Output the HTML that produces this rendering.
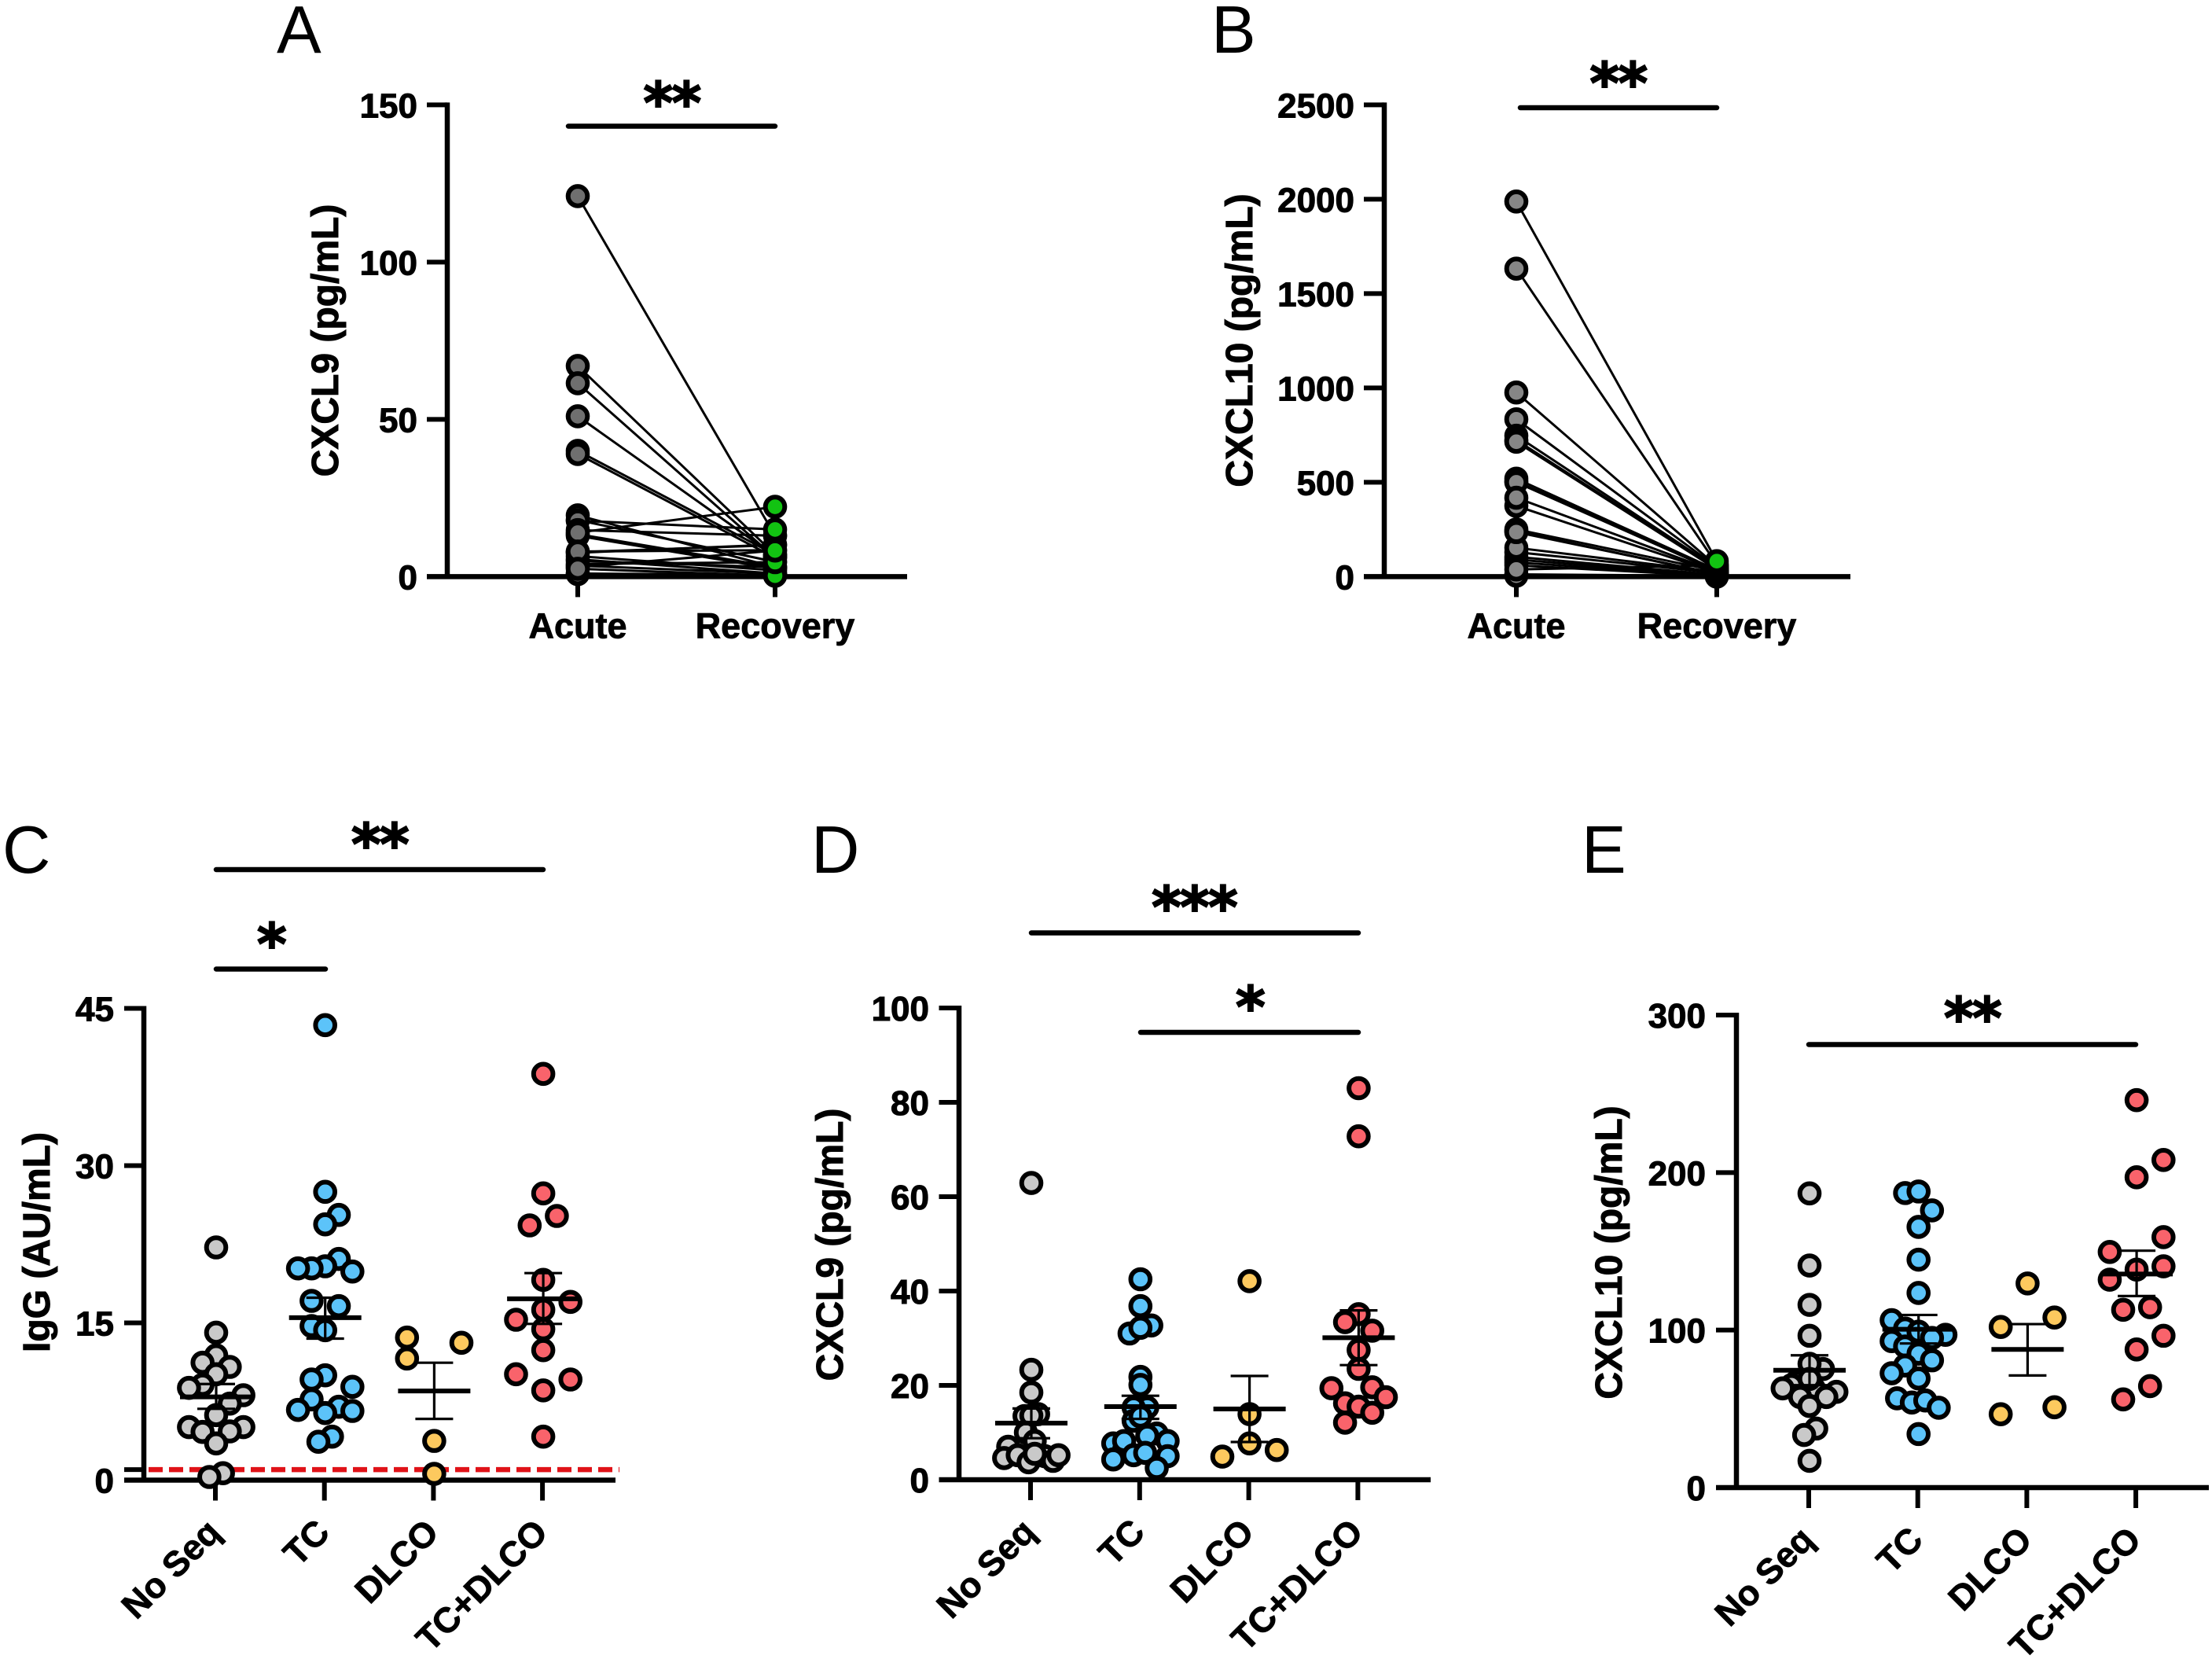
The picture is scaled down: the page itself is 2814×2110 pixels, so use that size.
<!DOCTYPE html>
<html lang="en">
<head>
<meta charset="utf-8">
<title>CXCL9, CXCL10 and IgG panels</title>
<style>
html,body{margin:0;padding:0;background:#fff;}
svg{display:block;}
text{font-family:"Liberation Sans",Arial,sans-serif;fill:#000;}
.letter{font-size:85px;}
.ytitle{font-size:48px;font-weight:700;text-anchor:middle;stroke:#000;stroke-width:1px;}
.star{font-family:"DejaVu Sans",sans-serif;font-weight:700;font-size:72px;text-anchor:middle;letter-spacing:-1.7px;stroke:#000;stroke-width:2px;}
.bar{stroke:#000;stroke-width:6.5;stroke-linecap:round;}
.tick-label{font-size:44px;font-weight:700;text-anchor:end;stroke:#000;stroke-width:1px;}
.cat-label{font-size:45px;font-weight:700;stroke:#000;stroke-width:.8px;}
</style>
</head>
<body>
<svg id="figure" xmlns="http://www.w3.org/2000/svg" width="2814" height="2110" viewBox="0 0 2814 2110">
  <rect width="2814" height="2110" fill="#fff"/>
  <text class="letter" x="352" y="67">A</text>
  <text class="letter" x="1541" y="67">B</text>
  <text class="letter" x="3" y="1110">C</text>
  <text class="letter" x="1032" y="1110">D</text>
  <text class="letter" x="2012" y="1110">E</text>

  <text class="ytitle" transform="translate(430,433) rotate(-90)">CXCL9 (pg/mL)</text>
  <text class="ytitle" transform="translate(1593,433) rotate(-90)">CXCL10 (pg/mL)</text>
  <text class="ytitle" transform="translate(63,1580) rotate(-90)">IgG (AU/mL)</text>
  <text class="ytitle" transform="translate(1072,1583) rotate(-90)">CXCL9 (pg/mL)</text>
  <text class="ytitle" transform="translate(2063,1593) rotate(-90)">CXCL10 (pg/mL)</text>

  <line class="bar" x1="723" y1="160.5" x2="986" y2="160.5"/>
  <text class="star" x="854.5" y="156">**</text>
  <line class="bar" x1="1934" y1="137" x2="2184" y2="137"/>
  <text class="star" x="2058.5" y="131">**</text>
  <line class="bar" x1="275" y1="1106" x2="691" y2="1106"/>
  <text class="star" x="483" y="1099">**</text>
  <line class="bar" x1="275" y1="1232.5" x2="414" y2="1232.5"/>
  <text class="star" x="345" y="1226">*</text>
  <line class="bar" x1="1312" y1="1186.5" x2="1728" y2="1186.5"/>
  <text class="star" x="1519" y="1179">***</text>
  <line class="bar" x1="1451" y1="1313" x2="1728" y2="1313"/>
  <text class="star" x="1590" y="1306">*</text>
  <line class="bar" x1="2301" y1="1328.5" x2="2717" y2="1328.5"/>
  <text class="star" x="2509" y="1320">**</text>
</svg>
<script>
// ---------- paired chart data ----------
const pairedCategories = ['Acute', 'Recovery'];
const aTicks = [0, 50, 100, 150];
const bTicks = [0, 500, 1000, 1500, 2000, 2500];
const aAcute = [121, 14.8, 7.8, 7.6, 67, 61.5, 51, 40, 39, 19.5, 13.5, 13, 5, 6.5, 5.5, 3.5, 1, 2.5, 0.8, 18, 4, 8, 3, 17.8, 14];
const aRecovery = [13, 13, 10, 10.2, 7, 6, 6.5, 7, 6, 3, 3, 2.5, 3, 2, 1, 1, 0.6, 0.3, 0.3, 4.7, 4.6, 8.4, 8.3, 15, 22.2];
const aAcuteDrawOrder = [0, 4, 5, 6, 7, 8, 9, 19, 23, 1, 10, 11, 24, 12, 13, 14, 15, 20, 22, 16, 18, 3, 2, 21, 17];
const bAcute = [1988, 1632, 976, 834, 747, 724, 715, 519, 505, 500, 375, 418, 250, 240, 130, 105, 90, 75, 60, 153, 236, 12, 8, 5, 38];
const bRecovery = [82, 65, 55, 50, 45, 40, 38, 35, 30, 28, 20, 25, 30, 12, 20, 10, 8, 5, 3, 25, 15, 5, 2, 0, 60];

// ---------- group scatter data ----------
const groupCategories = ['No Seq', 'TC', 'DLCO', 'TC+DLCO'];
const groupFills = ['#c9c9c9', '#5cc3f9', '#fdc95e', '#f9636b'];

const cTicks = [0, 1, 15, 30, 45];
const cTickLabels = ['0', '', '15', '30', '45'];
const cNoSeq = [22.2, 14.07, 11.9, 11.2, 10.8, 10.1, 9.1, 8.8, 8.1, 7.3, 6.2, 5.06, 5.06, 4.6, 4.65, 3.5, 0.66, 0.3];
const cNoSeqLanes = [0, 0, 0, -1, 1, 0, -1, -2, 2, 1, 0, -2, 2, -1, 1, 0, 0.5, -0.5];
const cTC = [43.4, 27.5, 25.3, 24.4, 21.1, 20.4, 20.2, 20.2, 19.9, 17.1, 16.6, 14.7, 14.3, 10, 9.6, 8.9, 7.7, 7, 6.7, 6.6, 6.4, 4.15, 3.66];
const cTCLanes = [0, 0, 1, 0, 1, 0, -1, -2, 2, -1, 1, -1, 0, 0, -1, 2, -1, 1, -2, 2, 0, 0.5, -0.5];
const cDLCO = [13.6, 13.1, 11.6, 3.74, 0.6];
const cDLCOLanes = [-2, 2, -2, 0, 0];
const cBoth = [38.75, 27.35, 25.2, 24.3, 19.1, 17, 16.25, 15.3, 14.4, 12.4, 10.1, 9.6, 8.56, 4.15];
const cBothLanes = [0, 0, 1, -1, 0, 2, 0, -2, 0, 0, -2, 2, 0, 0];
const cMeans = [7.94, 15.5, 8.5, 17.3];
const cUpper = [9.17, 17.4, 11.2, 19.75];
const cLower = [6.8, 13.5, 5.84, 14.9];

const dTicks = [0, 20, 40, 60, 80, 100];
const dNoSeq = [62.9, 23.3, 18.5, 13.5, 13.9, 13.6, 10, 8.2, 7, 4.6, 5.2, 3.7, 5, 4, 5.2, 5.5];
const dNoSeqLanes = [0, 0, 0, -0.5, 0.5, 0, -0.4, 0.25, -1.7, -2, -1, -0.2, 1, 1.6, 2, 0.25];
const dTC = [42.5, 36.8, 32.7, 31, 32.2, 21.8, 20.1, 15.3, 15.3, 12.5, 13.4, 9.8, 9.3, 8.2, 7.7, 6.3, 8.2, 5.2, 5, 4.3, 5.7, 2.5];
const dTCLanes = [0, 0, 0.8, -0.8, 0, 0, 0, 0.5, -0.5, -0.5, 0, 1.2, 0.5, 2, -2, -1.2, -1.2, -0.5, 2, -2, 0.35, 1.2];
const dDLCO = [42.1, 13.9, 7.7, 6.3, 4.9];
const dDLCOLanes = [0, 0, 0, 2, -2];
const dBoth = [83, 72.8, 35.1, 33.4, 31.6, 27.5, 23.5, 19.6, 19.4, 17.5, 16.2, 15.5, 14.2, 12.1];
const dBothLanes = [0, 0, 0, -1, 1, 0, 0, 1, -2, 2, -1, 0, 1, -1];
const dMeans = [12, 15.5, 15, 30.1];
const dUpper = [15.1, 17.8, 22, 35.9];
const dLower = [8.8, 12.9, 8, 24.3];

const eTicks = [0, 100, 200, 300];
const eNoSeq = [186.8, 141, 116, 96.4, 75.3, 78.6, 67, 65, 63, 62.5, 60.8, 57.5, 57.5, 69, 51.8, 37.5, 33.4, 17];
const eNoSeqLanes = [0, 0, 0, 0, 1, 0, -1, -1.35, -2, 0.35, 2, -0.7, 1.25, 0, 0, 0.5, -0.4, 0];
const eTC = [187, 188, 176, 165.5, 144.7, 123.6, 106.3, 101, 99, 97, 95, 93, 89.6, 85, 80.8, 77.5, 72.6, 69.3, 56.7, 54, 55.3, 50.7, 34];
const eTCLanes = [-1, 0, 1, 0, 0, 0, -2, -1, 0, 2, 1, -2, -1, 0, 1, -1, -2, 0, -1.6, -0.5, 0.5, 1.5, 0];
const eDLCO = [129.6, 108, 102, 51, 46.6];
const eDLCOLanes = [0, 2, -2, 2, -2];
const eBoth = [246, 208, 197, 159, 149.6, 140.5, 138.4, 132, 114.5, 112.9, 96.4, 87.7, 64.4, 56];
const eBothLanes = [0, 2, 0, 2, -2, 2, 0, -2, 1, -1, 2, 0, 1, -1];
const eMeans = [74.5, 100.5, 87.7, 135.6];
const eUpper = [84, 109.6, 103.8, 150.4];
const eLower = [65, 91.5, 71.2, 121.6];

const cutoffValue = 1;

// ---------- helpers ----------
const SVGNS = 'http://www.w3.org/2000/svg';
const figure = document.getElementById('figure');
const MARKER_R = 12.3;
const MARKER_STROKE = 6;
function mk(tag, attrs, parent) {
  const el = document.createElementNS(SVGNS, tag);
  for (const k in attrs) el.setAttribute(k, attrs[k]);
  (parent || figure).appendChild(el);
  return el;
}
function scaleY(p, v) { return p.y0 - v / p.max * (p.y0 - p.yTop); }
function scaleX(p, i) { return p.x0 + i * p.step; }

function drawAxes(p, ticks, labels, cats, rotated) {
  const axis = mk('g', {});
  
  
  const yAxis = mk('line', {x1: p.xAxis, x2: p.xAxis, y1: p.yTop - 3, y2: p.y0 + 3, stroke: '#000', 'stroke-width': 6.5}, axis);
  
  
  const xAxis = mk('line', {x1: p.xStart, x2: p.xEnd, y1: p.y0, y2: p.y0, stroke: '#000', 'stroke-width': 6.5}, axis);
  
  
  ticks.forEach(function (t, i) {
    const y = scaleY(p, t);
    const tick = mk('line', {x1: p.xStart, x2: p.xAxis, y1: y, y2: y, stroke: '#000', 'stroke-width': 6}, axis);
    
    
    const lab = labels ? labels[i] : String(t);
    if (lab) {
      const tx = mk('text', {class: 'tick-label', x: p.labelX, y: y + 16}, axis);
      
      
      tx.textContent = lab;
    }
  });
  cats.forEach(function (c, i) {
    const x = scaleX(p, i);
    const tick = mk('line', {x1: x, x2: x, y1: p.y0, y2: p.y0 + 26, stroke: '#000', 'stroke-width': 6}, axis);
    
    
    const tx = mk('text', {class: 'cat-label'}, axis);
    
    
    tx.textContent = c;
    if (rotated) {
      tx.setAttribute('text-anchor', 'end');
      tx.setAttribute('transform', 'translate(' + (x + 9) + ',' + (p.y0 + 69) + ') rotate(-45)');
    } else {
      tx.setAttribute('text-anchor', 'middle');
      tx.setAttribute('x', x);
      tx.setAttribute('y', p.y0 + 78);
    }
  });
}

function drawPaired(p, acute, recovery, acuteFill, recoveryFill, blackBelow, acuteOrder) {
  const g = mk('g', {});
  
  
  const xa = scaleX(p, 0), xr = scaleX(p, 1);
  acute.forEach(function (v, i) {
    const ln = mk('line', {x1: xa, y1: scaleY(p, v), x2: xr, y2: scaleY(p, recovery[i]), stroke: '#000', 'stroke-width': 3}, g);
    
    
  });
  const order = acuteOrder || acute.map(function (_, i) { return i; });
  order.forEach(function (i) {
    const c = mk('circle', {cx: xa, cy: scaleY(p, acute[i]), r: MARKER_R, fill: acuteFill, stroke: '#000', 'stroke-width': MARKER_STROKE}, g);
    
    
  });
  const rorder = blackBelow ? recovery.slice().sort(function (a, b) { return a - b; }) : recovery;
  rorder.forEach(function (v) {
    const c = mk('circle', {cx: xr, cy: scaleY(p, v), r: MARKER_R, fill: v < blackBelow ? '#000' : recoveryFill, stroke: '#000', 'stroke-width': MARKER_STROKE}, g);
    
    
  });
}

function drawGroup(p, idx, values, lanes, fill) {
  const g = mk('g', {});
  
  
  const cx = scaleX(p, idx) + p.shift;
  values.forEach(function (v, i) {
    const c = mk('circle', {cx: cx + lanes[i] * p.lane, cy: scaleY(p, v), r: MARKER_R, fill: fill, stroke: '#000', 'stroke-width': MARKER_STROKE}, g);
    
    
  });
}

function drawStats(p, means, upper, lower) {
  means.forEach(function (m, i) {
    const x = scaleX(p, i) + p.shift;
    const yu = scaleY(p, upper[i]), yl = scaleY(p, lower[i]), ym = scaleY(p, m);
    const v = mk('line', {x1: x, x2: x, y1: yu, y2: yl, stroke: '#000', 'stroke-width': 3.2});
    
    
    const cu = mk('line', {x1: x - 24, x2: x + 24, y1: yu, y2: yu, stroke: '#000', 'stroke-width': 3.2});
    
    
    const cl = mk('line', {x1: x - 24, x2: x + 24, y1: yl, y2: yl, stroke: '#000', 'stroke-width': 3.2});
    
    
    const ml = mk('line', {x1: x - 46, x2: x + 46, y1: ym, y2: ym, stroke: '#000', 'stroke-width': 6}); 
    
    
  });
}

// ---------- panels ----------
const panelA = {name: 'panel-a', xAxis: 569, xStart: 543, xEnd: 1154, y0: 733.4, yTop: 133.4, max: 150, x0: 735, step: 251, labelX: 531};
drawAxes(panelA, aTicks, null, pairedCategories, false);
drawPaired(panelA, aAcute, aRecovery, '#6f6f6f', '#12c312', 0, aAcuteDrawOrder);

const panelB = {name: 'panel-b', xAxis: 1761, xStart: 1735, xEnd: 2354, y0: 733.4, yTop: 133.4, max: 2500, x0: 1929, step: 255, labelX: 1723};
drawAxes(panelB, bTicks, null, pairedCategories, false);
drawPaired(panelB, bAcute, bRecovery, '#868686', '#12c312', 70, null);

const panelC = {name: 'panel-c', xAxis: 183, xStart: 158, xEnd: 783, y0: 1882.5, yTop: 1282.5, max: 45, x0: 274, step: 138.7, labelX: 145, shift: 1, lane: 17.3};
drawAxes(panelC, cTicks, cTickLabels, groupCategories, true);
const cutoff = mk('line', {x1: 189, x2: 788, y1: scaleY(panelC, cutoffValue), y2: scaleY(panelC, cutoffValue), stroke: '#e01218', 'stroke-width': 6.5, 'stroke-dasharray': '18 8'});


drawGroup(panelC, 0, cNoSeq, cNoSeqLanes, groupFills[0]);
drawGroup(panelC, 1, cTC, cTCLanes, groupFills[1]);
drawGroup(panelC, 2, cDLCO, cDLCOLanes, groupFills[2]);
drawGroup(panelC, 3, cBoth, cBothLanes, groupFills[3]);
drawStats(panelC, cMeans, cUpper, cLower);

const panelD = {name: 'panel-d', xAxis: 1220, xStart: 1194.5, xEnd: 1820, y0: 1882, yTop: 1282, max: 100, x0: 1311, step: 138.8, labelX: 1182, shift: 1, lane: 17.3};
drawAxes(panelD, dTicks, null, groupCategories, true);
drawGroup(panelD, 0, dNoSeq, dNoSeqLanes, groupFills[0]);
drawGroup(panelD, 1, dTC, dTCLanes, groupFills[1]);
drawGroup(panelD, 2, dDLCO, dDLCOLanes, groupFills[2]);
drawGroup(panelD, 3, dBoth, dBothLanes, groupFills[3]);
drawStats(panelD, dMeans, dUpper, dLower);

const panelE = {name: 'panel-e', xAxis: 2209, xStart: 2183, xEnd: 2810, y0: 1892, yTop: 1291, max: 300, x0: 2301, step: 138.7, labelX: 2170, shift: 1, lane: 17.1};
drawAxes(panelE, eTicks, null, groupCategories, true);
drawGroup(panelE, 0, eNoSeq, eNoSeqLanes, groupFills[0]);
drawGroup(panelE, 1, eTC, eTCLanes, groupFills[1]);
drawGroup(panelE, 2, eDLCO, eDLCOLanes, groupFills[2]);
drawGroup(panelE, 3, eBoth, eBothLanes, groupFills[3]);
drawStats(panelE, eMeans, eUpper, eLower);
</script>
</body>
</html>
